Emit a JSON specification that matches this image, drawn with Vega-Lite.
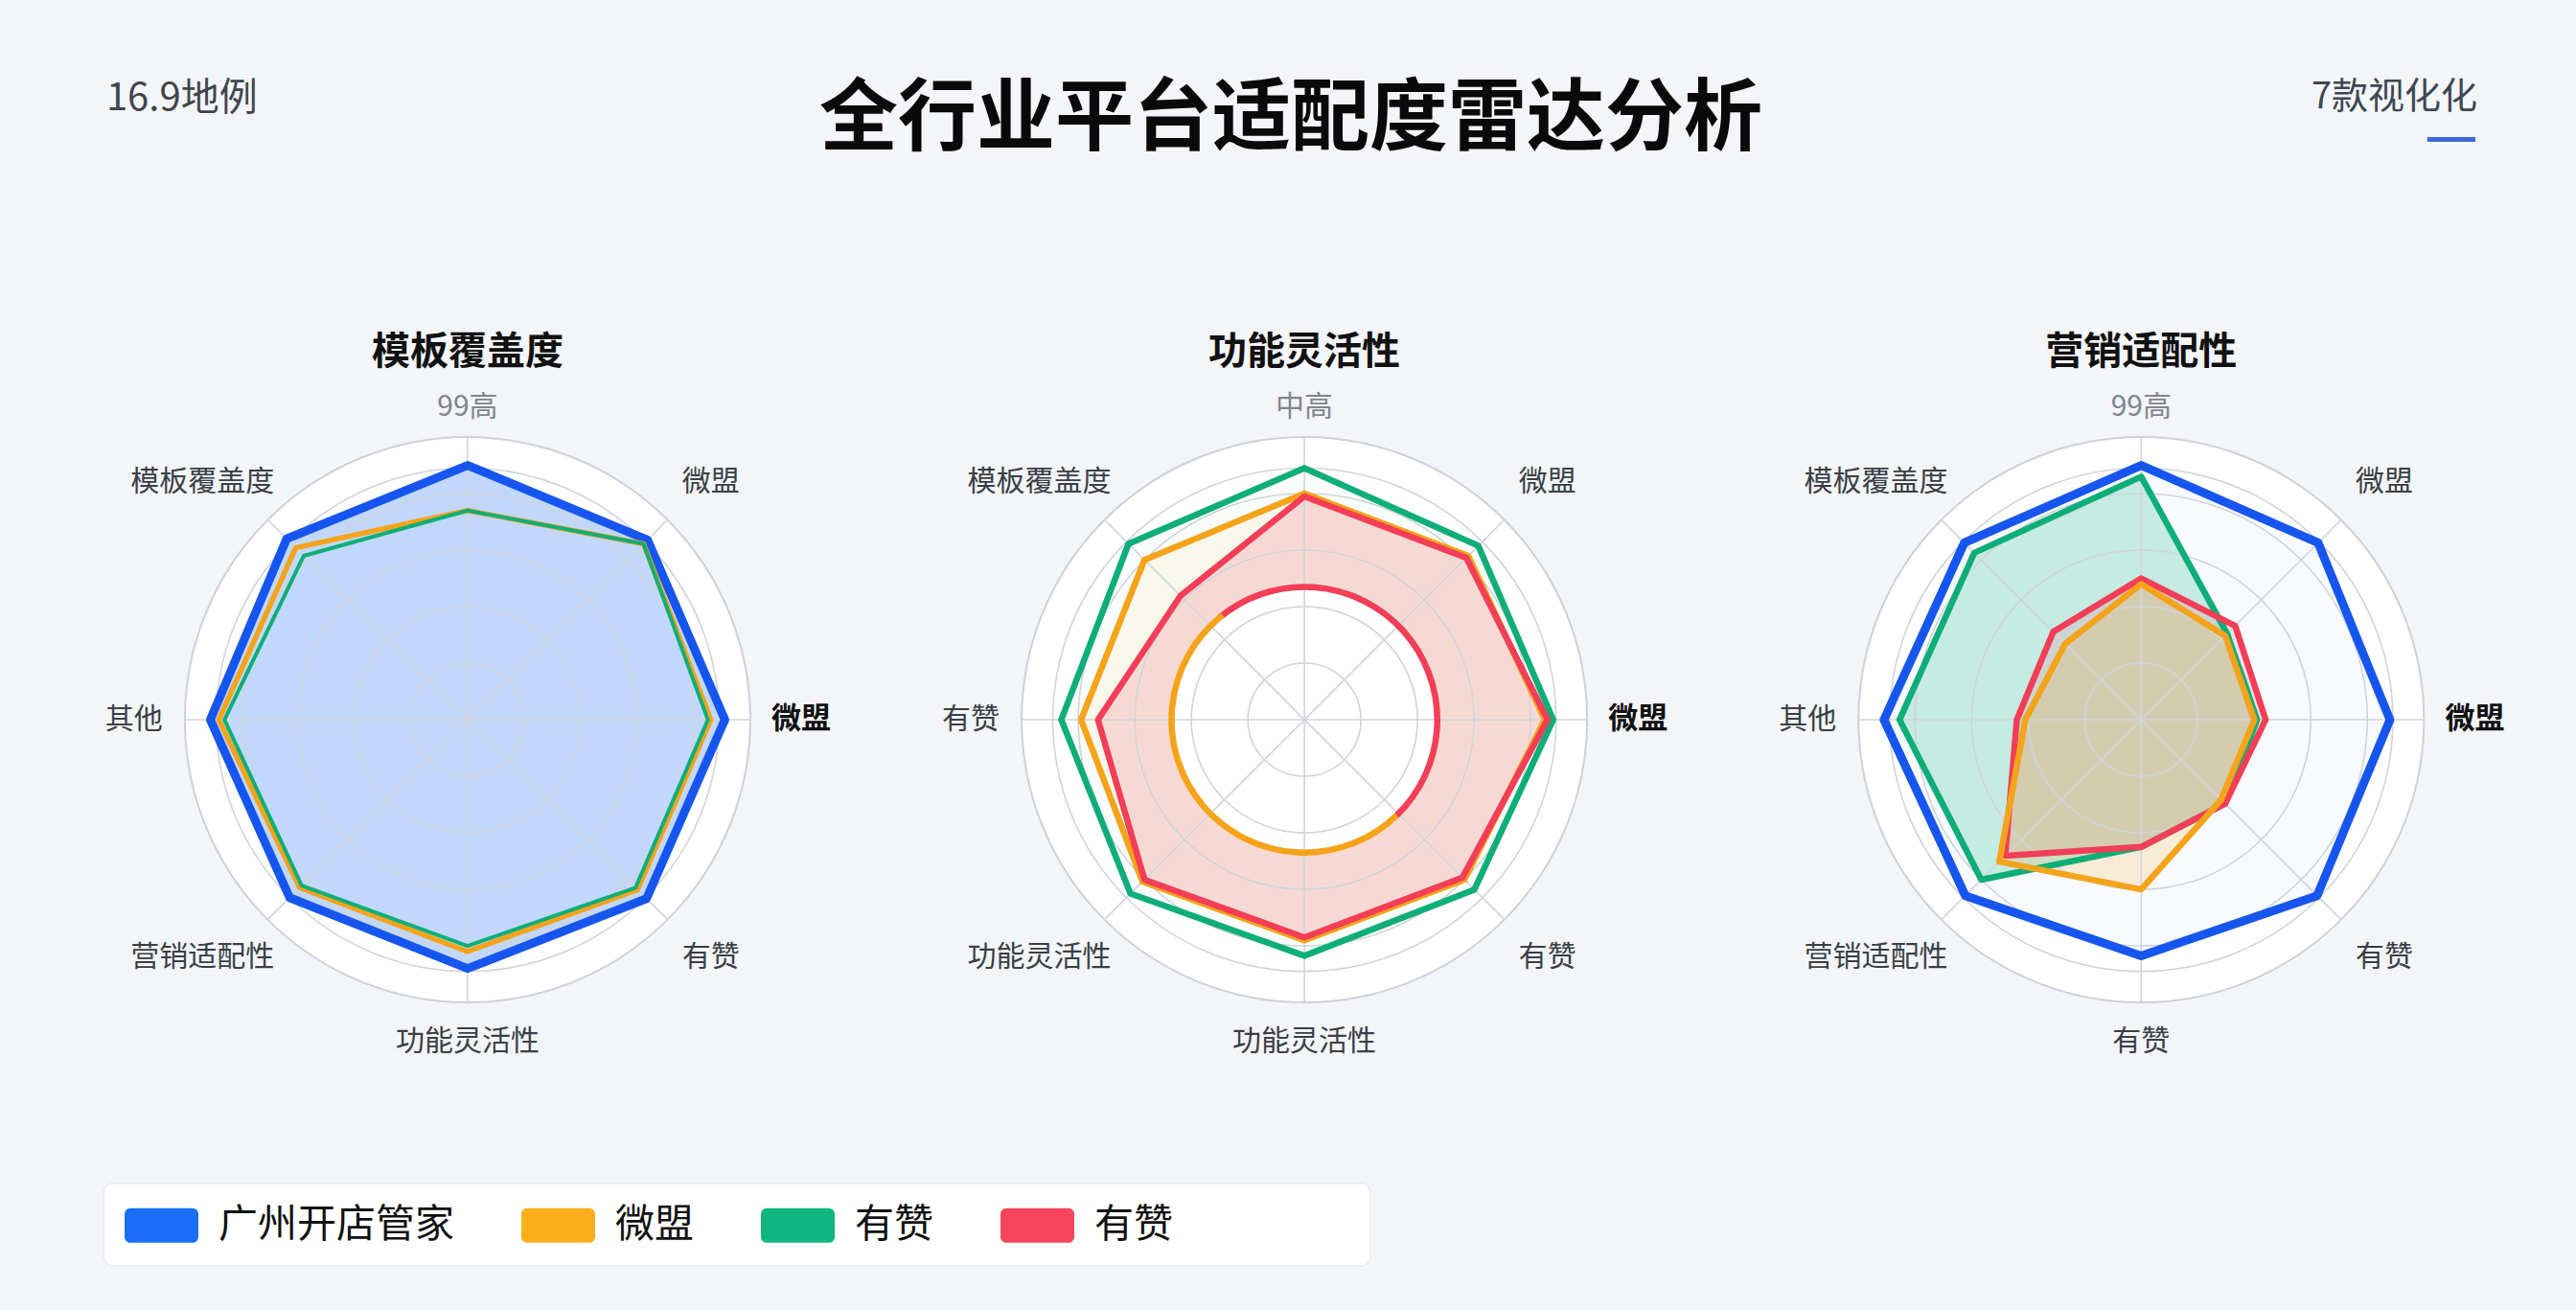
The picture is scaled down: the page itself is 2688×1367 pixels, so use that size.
{
  "$schema": "https://vega.github.io/schema/vega-lite/v6.json",
  "width": 2688,
  "height": 1367,
  "autosize": {"type": "none"},
  "padding": 0,
  "background": "#f3f5f8",
  "config": {
    "view": {"stroke": null},
    "font": "Noto Sans CJK SC",
    "text": {"font": "Noto Sans CJK SC"}
  },
  "datasets": {
    "charts": [
      {"chart": "模板覆盖度"},
      {"chart": "功能灵活性"},
      {"chart": "营销适配性"}
    ],
    "notes": [
      {"id": "title", "text": "全行业平台适配度雷达分析"},
      {"id": "left", "text": "16.9地例"},
      {"id": "right", "text": "7款视化化"}
    ],
    "rings": [
      {"chart": "模板覆盖度", "r": 20}, {"chart": "模板覆盖度", "r": 40}, {"chart": "模板覆盖度", "r": 60},
      {"chart": "模板覆盖度", "r": 80}, {"chart": "模板覆盖度", "r": 89},
      {"chart": "功能灵活性", "r": 20}, {"chart": "功能灵活性", "r": 40}, {"chart": "功能灵活性", "r": 60},
      {"chart": "功能灵活性", "r": 80}, {"chart": "功能灵活性", "r": 89},
      {"chart": "营销适配性", "r": 20}, {"chart": "营销适配性", "r": 40}, {"chart": "营销适配性", "r": 60},
      {"chart": "营销适配性", "r": 80}, {"chart": "营销适配性", "r": 89}
    ],
    "axes": [
      {"chart": "模板覆盖度", "k": 0, "label": "99高"},
      {"chart": "模板覆盖度", "k": 1, "label": "微盟"},
      {"chart": "模板覆盖度", "k": 2, "label": "微盟"},
      {"chart": "模板覆盖度", "k": 3, "label": "有赞"},
      {"chart": "模板覆盖度", "k": 4, "label": "功能灵活性"},
      {"chart": "模板覆盖度", "k": 5, "label": "营销适配性"},
      {"chart": "模板覆盖度", "k": 6, "label": "其他"},
      {"chart": "模板覆盖度", "k": 7, "label": "模板覆盖度"},
      {"chart": "功能灵活性", "k": 0, "label": "中高"},
      {"chart": "功能灵活性", "k": 1, "label": "微盟"},
      {"chart": "功能灵活性", "k": 2, "label": "微盟"},
      {"chart": "功能灵活性", "k": 3, "label": "有赞"},
      {"chart": "功能灵活性", "k": 4, "label": "功能灵活性"},
      {"chart": "功能灵活性", "k": 5, "label": "功能灵活性"},
      {"chart": "功能灵活性", "k": 6, "label": "有赞"},
      {"chart": "功能灵活性", "k": 7, "label": "模板覆盖度"},
      {"chart": "营销适配性", "k": 0, "label": "99高"},
      {"chart": "营销适配性", "k": 1, "label": "微盟"},
      {"chart": "营销适配性", "k": 2, "label": "微盟"},
      {"chart": "营销适配性", "k": 3, "label": "有赞"},
      {"chart": "营销适配性", "k": 4, "label": "有赞"},
      {"chart": "营销适配性", "k": 5, "label": "营销适配性"},
      {"chart": "营销适配性", "k": 6, "label": "其他"},
      {"chart": "营销适配性", "k": 7, "label": "模板覆盖度"}
    ],
    "inner": [
      {"chart": "功能灵活性", "series": "有赞2", "a0": -40, "a1": 136, "r": 47},
      {"chart": "功能灵活性", "series": "微盟", "a0": 136, "a1": 322, "r": 47}
    ],
    "scores": [
      {"chart": "模板覆盖度", "series": "广州开店管家", "k": 0, "v": 90},
      {"chart": "模板覆盖度", "series": "广州开店管家", "k": 1, "v": 90},
      {"chart": "模板覆盖度", "series": "广州开店管家", "k": 2, "v": 91},
      {"chart": "模板覆盖度", "series": "广州开店管家", "k": 3, "v": 89.5},
      {"chart": "模板覆盖度", "series": "广州开店管家", "k": 4, "v": 88},
      {"chart": "模板覆盖度", "series": "广州开店管家", "k": 5, "v": 89},
      {"chart": "模板覆盖度", "series": "广州开店管家", "k": 6, "v": 91},
      {"chart": "模板覆盖度", "series": "广州开店管家", "k": 7, "v": 90.5},
      {"chart": "模板覆盖度", "series": "微盟", "k": 0, "v": 74},
      {"chart": "模板覆盖度", "series": "微盟", "k": 1, "v": 88},
      {"chart": "模板覆盖度", "series": "微盟", "k": 2, "v": 86},
      {"chart": "模板覆盖度", "series": "微盟", "k": 3, "v": 85},
      {"chart": "模板覆盖度", "series": "微盟", "k": 4, "v": 82},
      {"chart": "模板覆盖度", "series": "微盟", "k": 5, "v": 84},
      {"chart": "模板覆盖度", "series": "微盟", "k": 6, "v": 88},
      {"chart": "模板覆盖度", "series": "微盟", "k": 7, "v": 86},
      {"chart": "模板覆盖度", "series": "有赞", "k": 0, "v": 74},
      {"chart": "模板覆盖度", "series": "有赞", "k": 1, "v": 88},
      {"chart": "模板覆盖度", "series": "有赞", "k": 2, "v": 85},
      {"chart": "模板覆盖度", "series": "有赞", "k": 3, "v": 84},
      {"chart": "模板覆盖度", "series": "有赞", "k": 4, "v": 80},
      {"chart": "模板覆盖度", "series": "有赞", "k": 5, "v": 83},
      {"chart": "模板覆盖度", "series": "有赞", "k": 6, "v": 86},
      {"chart": "模板覆盖度", "series": "有赞", "k": 7, "v": 82},
      {"chart": "功能灵活性", "series": "有赞", "k": 0, "v": 89},
      {"chart": "功能灵活性", "series": "有赞", "k": 1, "v": 87},
      {"chart": "功能灵活性", "series": "有赞", "k": 2, "v": 88},
      {"chart": "功能灵活性", "series": "有赞", "k": 3, "v": 85},
      {"chart": "功能灵活性", "series": "有赞", "k": 4, "v": 83.5},
      {"chart": "功能灵活性", "series": "有赞", "k": 5, "v": 87},
      {"chart": "功能灵活性", "series": "有赞", "k": 6, "v": 86},
      {"chart": "功能灵活性", "series": "有赞", "k": 7, "v": 88},
      {"chart": "功能灵活性", "series": "微盟", "k": 0, "v": 80},
      {"chart": "功能灵活性", "series": "微盟", "k": 1, "v": 82},
      {"chart": "功能灵活性", "series": "微盟", "k": 2, "v": 85},
      {"chart": "功能灵活性", "series": "微盟", "k": 3, "v": 80},
      {"chart": "功能灵活性", "series": "微盟", "k": 4, "v": 78},
      {"chart": "功能灵活性", "series": "微盟", "k": 5, "v": 81},
      {"chart": "功能灵活性", "series": "微盟", "k": 6, "v": 79},
      {"chart": "功能灵活性", "series": "微盟", "k": 7, "v": 80},
      {"chart": "功能灵活性", "series": "有赞2", "k": 0, "v": 79},
      {"chart": "功能灵活性", "series": "有赞2", "k": 1, "v": 81},
      {"chart": "功能灵活性", "series": "有赞2", "k": 2, "v": 86},
      {"chart": "功能灵活性", "series": "有赞2", "k": 3, "v": 79},
      {"chart": "功能灵活性", "series": "有赞2", "k": 4, "v": 77},
      {"chart": "功能灵活性", "series": "有赞2", "k": 5, "v": 80},
      {"chart": "功能灵活性", "series": "有赞2", "k": 6, "v": 73},
      {"chart": "功能灵活性", "series": "有赞2", "k": 7, "v": 62},
      {"chart": "营销适配性", "series": "广州开店管家", "k": 0, "v": 90},
      {"chart": "营销适配性", "series": "广州开店管家", "k": 1, "v": 88.5},
      {"chart": "营销适配性", "series": "广州开店管家", "k": 2, "v": 88},
      {"chart": "营销适配性", "series": "广州开店管家", "k": 3, "v": 88},
      {"chart": "营销适配性", "series": "广州开店管家", "k": 4, "v": 83.5},
      {"chart": "营销适配性", "series": "广州开店管家", "k": 5, "v": 88},
      {"chart": "营销适配性", "series": "广州开店管家", "k": 6, "v": 91},
      {"chart": "营销适配性", "series": "广州开店管家", "k": 7, "v": 88.5},
      {"chart": "营销适配性", "series": "有赞", "k": 0, "v": 86},
      {"chart": "营销适配性", "series": "有赞", "k": 1, "v": 43},
      {"chart": "营销适配性", "series": "有赞", "k": 2, "v": 41},
      {"chart": "营销适配性", "series": "有赞", "k": 3, "v": 42},
      {"chart": "营销适配性", "series": "有赞", "k": 4, "v": 45},
      {"chart": "营销适配性", "series": "有赞", "k": 5, "v": 80},
      {"chart": "营销适配性", "series": "有赞", "k": 6, "v": 85.5},
      {"chart": "营销适配性", "series": "有赞", "k": 7, "v": 83.5},
      {"chart": "营销适配性", "series": "有赞2", "k": 0, "v": 50},
      {"chart": "营销适配性", "series": "有赞2", "k": 1, "v": 47},
      {"chart": "营销适配性", "series": "有赞2", "k": 2, "v": 44},
      {"chart": "营销适配性", "series": "有赞2", "k": 3, "v": 42},
      {"chart": "营销适配性", "series": "有赞2", "k": 4, "v": 45},
      {"chart": "营销适配性", "series": "有赞2", "k": 5, "v": 68},
      {"chart": "营销适配性", "series": "有赞2", "k": 6, "v": 44},
      {"chart": "营销适配性", "series": "有赞2", "k": 7, "v": 44},
      {"chart": "营销适配性", "series": "微盟", "k": 0, "v": 48},
      {"chart": "营销适配性", "series": "微盟", "k": 1, "v": 42},
      {"chart": "营销适配性", "series": "微盟", "k": 2, "v": 40},
      {"chart": "营销适配性", "series": "微盟", "k": 3, "v": 40},
      {"chart": "营销适配性", "series": "微盟", "k": 4, "v": 60},
      {"chart": "营销适配性", "series": "微盟", "k": 5, "v": 71},
      {"chart": "营销适配性", "series": "微盟", "k": 6, "v": 41},
      {"chart": "营销适配性", "series": "微盟", "k": 7, "v": 38}
    ]
  },
  "layer": [
    {
      "data": {"name": "charts"},
      "transform": [
        {"calculate": "165.4 + 296 * indexof(['模板覆盖度','功能灵活性','营销适配性'], datum.chart)", "as": "cx"},
        {"calculate": "254.6", "as": "cy"}
      ],
      "mark": {"type": "arc", "theta": 0, "theta2": 6.2832, "fill": "#ffffff", "stroke": "#cdd2d8", "strokeWidth": 2},
      "encoding": {
        "x": {"field": "cx", "type": "quantitative", "scale": {"domain": [0, 911.19], "nice": false, "zero": false}, "axis": null},
        "y": {"field": "cy", "type": "quantitative", "scale": {"domain": [0, 463.39], "nice": false, "zero": false, "reverse": true}, "axis": null},
        "radius": {"datum": 100, "type": "quantitative", "stack": null, "scale": {"type": "linear", "domain": [0, 100], "range": [0, 295], "zero": true}}
      }
    },
    {
      "data": {"name": "scores"},
      "transform": [
        {"calculate": "165.4 + 296 * indexof(['模板覆盖度','功能灵活性','营销适配性'], datum.chart)", "as": "cx"},
        {"calculate": "datum.cx + datum.v * sin(datum.k * PI / 4)", "as": "x"},
        {"calculate": "254.6 - datum.v * cos(datum.k * PI / 4)", "as": "y"}
      ],
      "mark": {"type": "line", "interpolate": "linear-closed", "strokeOpacity": 0},
      "encoding": {
        "x": {"field": "x", "type": "quantitative", "scale": {"domain": [0, 911.19], "nice": false, "zero": false}, "axis": null},
        "y": {"field": "y", "type": "quantitative", "scale": {"domain": [0, 463.39], "nice": false, "zero": false, "reverse": true}, "axis": null},
        "detail": {"field": "chart"},
        "order": {"field": "k", "type": "quantitative"},
        "fill": {
          "field": "series",
          "type": "nominal",
          "scale": {"domain": ["广州开店管家", "微盟", "有赞", "有赞2"], "range": ["#1a6ef5", "#fbae1c", "#10b67f", "#f5455c"]},
          "legend": {
            "orient": "none",
            "legendX": 130,
            "legendY": 1240,
            "direction": "horizontal",
            "columns": 4,
            "title": null,
            "padding": 0,
            "symbolType": "M-0.84,-0.47 H0.84 A0.16,0.16 0 0 1 1,-0.31 V0.31 A0.16,0.16 0 0 1 0.84,0.47 H-0.84 A0.16,0.16 0 0 1 -1,0.31 V-0.31 A0.16,0.16 0 0 1 -0.84,-0.47 Z",
            "symbolSize": 5929,
            "symbolStrokeWidth": 0,
            "symbolOpacity": 1,
            "labelFont": "Noto Sans CJK SC",
            "labelFontSize": 41,
            "labelColor": "#111111",
            "labelOffset": 21,
            "labelLimit": 400,
            "columnPadding": 70,
            "labelExpr": "datum.label == '有赞2' ? '有赞' : datum.label"
          }
        },
        "fillOpacity": {
          "condition": [
            {"test": "datum.chart == '模板覆盖度' && datum.series == '广州开店管家'", "value": 0.27},
            {"test": "datum.chart == '模板覆盖度'", "value": 0},
            {"test": "datum.chart == '功能灵活性' && datum.series == '有赞2'", "value": 0.17},
            {"test": "datum.chart == '功能灵活性' && datum.series == '微盟'", "value": 0.07},
            {"test": "datum.chart == '营销适配性' && datum.series == '有赞'", "value": 0.22},
            {"test": "datum.chart == '营销适配性' && datum.series == '微盟'", "value": 0.18},
            {"test": "datum.chart == '营销适配性' && datum.series == '有赞2'", "value": 0.14},
            {"test": "datum.chart == '营销适配性' && datum.series == '广州开店管家'", "value": 0.03}
          ],
          "value": 0.03
        }
      }
    },
    {
      "data": {"name": "inner"},
      "transform": [
        {"calculate": "165.4 + 296 * indexof(['模板覆盖度','功能灵活性','营销适配性'], datum.chart)", "as": "cx"},
        {"calculate": "254.6", "as": "cy"}
      ],
      "mark": {"type": "arc", "theta": 0, "theta2": 6.2832, "fill": "#ffffff"},
      "encoding": {
        "x": {"field": "cx", "type": "quantitative", "scale": {"domain": [0, 911.19], "nice": false, "zero": false}, "axis": null},
        "y": {"field": "cy", "type": "quantitative", "scale": {"domain": [0, 463.39], "nice": false, "zero": false, "reverse": true}, "axis": null},
        "radius": {"field": "r", "type": "quantitative", "stack": null, "scale": {"type": "linear", "domain": [0, 100], "range": [0, 295], "zero": true}}
      }
    },
    {
      "data": {"name": "rings"},
      "transform": [
        {"calculate": "165.4 + 296 * indexof(['模板覆盖度','功能灵活性','营销适配性'], datum.chart)", "as": "cx"},
        {"calculate": "254.6", "as": "cy"}
      ],
      "mark": {"type": "arc", "theta": 0, "theta2": 6.2832, "filled": false, "fillOpacity": 0, "stroke": "#d0d4da", "strokeWidth": 1.6},
      "encoding": {
        "x": {"field": "cx", "type": "quantitative", "scale": {"domain": [0, 911.19], "nice": false, "zero": false}, "axis": null},
        "y": {"field": "cy", "type": "quantitative", "scale": {"domain": [0, 463.39], "nice": false, "zero": false, "reverse": true}, "axis": null},
        "radius": {"field": "r", "type": "quantitative", "stack": null, "scale": {"type": "linear", "domain": [0, 100], "range": [0, 295], "zero": true}}
      }
    },
    {
      "data": {"name": "axes"},
      "transform": [
        {"calculate": "165.4 + 296 * indexof(['模板覆盖度','功能灵活性','营销适配性'], datum.chart)", "as": "cx"},
        {"calculate": "254.6", "as": "cy"},
        {"calculate": "datum.cx + 100 * sin(datum.k * PI / 4)", "as": "ex"},
        {"calculate": "254.6 - 100 * cos(datum.k * PI / 4)", "as": "ey"}
      ],
      "mark": {"type": "rule", "stroke": "#d0d4da", "strokeWidth": 1.6},
      "encoding": {
        "x": {"field": "cx", "type": "quantitative", "scale": {"domain": [0, 911.19], "nice": false, "zero": false}, "axis": null},
        "y": {"field": "cy", "type": "quantitative", "scale": {"domain": [0, 463.39], "nice": false, "zero": false, "reverse": true}, "axis": null},
        "x2": {"field": "ex"},
        "y2": {"field": "ey"}
      }
    },
    {
      "data": {"name": "scores"},
      "transform": [
        {"calculate": "165.4 + 296 * indexof(['模板覆盖度','功能灵活性','营销适配性'], datum.chart)", "as": "cx"},
        {"calculate": "datum.cx + datum.v * sin(datum.k * PI / 4)", "as": "x"},
        {"calculate": "254.6 - datum.v * cos(datum.k * PI / 4)", "as": "y"}
      ],
      "mark": {"type": "line", "interpolate": "linear-closed", "strokeJoin": "round"},
      "encoding": {
        "x": {"field": "x", "type": "quantitative", "scale": {"domain": [0, 911.19], "nice": false, "zero": false}, "axis": null},
        "y": {"field": "y", "type": "quantitative", "scale": {"domain": [0, 463.39], "nice": false, "zero": false, "reverse": true}, "axis": null},
        "detail": {"field": "chart"},
        "order": {"field": "k", "type": "quantitative"},
        "stroke": {
          "field": "series",
          "type": "nominal",
          "scale": {"domain": ["广州开店管家", "微盟", "有赞", "有赞2"], "range": ["#1756ee", "#f5a31a", "#0fae78", "#f23e57"]},
          "legend": null
        },
        "strokeWidth": {
          "condition": [
            {"test": "datum.series == '广州开店管家'", "value": 9},
            {"test": "datum.chart == '模板覆盖度' && datum.series == '有赞'", "value": 4},
            {"test": "datum.chart == '模板覆盖度' && datum.series == '微盟'", "value": 5.5}
          ],
          "value": 6.5
        }
      }
    },
    {
      "data": {"name": "inner"},
      "transform": [
        {"calculate": "165.4 + 296 * indexof(['模板覆盖度','功能灵活性','营销适配性'], datum.chart)", "as": "cx"},
        {"calculate": "254.6", "as": "cy"}
      ],
      "mark": {"type": "arc", "filled": false, "fillOpacity": 0, "strokeWidth": 6.5, "strokeCap": "round"},
      "encoding": {
        "x": {"field": "cx", "type": "quantitative", "scale": {"domain": [0, 911.19], "nice": false, "zero": false}, "axis": null},
        "y": {"field": "cy", "type": "quantitative", "scale": {"domain": [0, 463.39], "nice": false, "zero": false, "reverse": true}, "axis": null},
        "theta": {"field": "a0", "type": "quantitative", "stack": null, "scale": {"type": "linear", "domain": [0, 360], "range": [0, 6.2832], "zero": false}},
        "theta2": {"field": "a1"},
        "radius": {"field": "r", "type": "quantitative", "stack": null, "scale": {"type": "linear", "domain": [0, 100], "range": [0, 295], "zero": true}},
        "radius2": {"field": "r"},
        "stroke": {"field": "series", "type": "nominal", "legend": null}
      }
    },
    {
      "data": {"name": "axes"},
      "transform": [
        {"filter": "datum.k != 2"},
        {"calculate": "165.4 + 296 * indexof(['模板覆盖度','功能灵活性','营销适配性'], datum.chart)", "as": "cx"},
        {"calculate": "datum.k == 0 ? 110.5 : datum.k == 4 ? 114 : 118", "as": "lr"},
        {"calculate": "datum.k % 2 == 1 ? datum.cx + (datum.k < 4 ? 1 : -1) * (86 + (length(datum.label) - 2) * 2.6) : datum.cx + datum.lr * sin(datum.k * PI / 4)", "as": "x"},
        {"calculate": "datum.k % 2 == 1 ? 254.6 - (datum.k == 1 || datum.k == 7 ? 1 : -1) * 84 : 254.6 - datum.lr * cos(datum.k * PI / 4)", "as": "y"}
      ],
      "mark": {"type": "text", "fontSize": 30, "baseline": "middle", "align": "center"},
      "encoding": {
        "x": {"field": "x", "type": "quantitative", "scale": {"domain": [0, 911.19], "nice": false, "zero": false}, "axis": null},
        "y": {"field": "y", "type": "quantitative", "scale": {"domain": [0, 463.39], "nice": false, "zero": false, "reverse": true}, "axis": null},
        "text": {"field": "label"},
        "color": {"condition": {"test": "datum.k == 0", "value": "#80878f"}, "value": "#3a3f46"}
      }
    },
    {
      "data": {"name": "axes"},
      "transform": [
        {"filter": "datum.k == 2"},
        {"calculate": "165.4 + 296 * indexof(['模板覆盖度','功能灵活性','营销适配性'], datum.chart)", "as": "cx"},
        {"calculate": "datum.cx + 118", "as": "x"},
        {"calculate": "254.6", "as": "y"}
      ],
      "mark": {"type": "text", "fontSize": 31, "fontWeight": "bold", "baseline": "middle", "align": "center", "color": "#111111"},
      "encoding": {
        "x": {"field": "x", "type": "quantitative", "scale": {"domain": [0, 911.19], "nice": false, "zero": false}, "axis": null},
        "y": {"field": "y", "type": "quantitative", "scale": {"domain": [0, 463.39], "nice": false, "zero": false, "reverse": true}, "axis": null},
        "text": {"field": "label"}
      }
    },
    {
      "data": {"name": "charts"},
      "transform": [
        {"calculate": "165.4 + 296 * indexof(['模板覆盖度','功能灵活性','营销适配性'], datum.chart)", "as": "cx"},
        {"calculate": "124.7", "as": "ty"}
      ],
      "mark": {"type": "text", "fontSize": 40, "fontWeight": "bold", "baseline": "middle", "align": "center", "color": "#111111"},
      "encoding": {
        "x": {"field": "cx", "type": "quantitative", "scale": {"domain": [0, 911.19], "nice": false, "zero": false}, "axis": null},
        "y": {"field": "ty", "type": "quantitative", "scale": {"domain": [0, 463.39], "nice": false, "zero": false, "reverse": true}, "axis": null},
        "text": {"field": "chart"}
      }
    },
    {
      "data": {"name": "notes"},
      "transform": [{"filter": "datum.id == 'title'"}],
      "mark": {"type": "text", "fontSize": 82, "fontWeight": "bold", "baseline": "middle", "align": "center", "color": "#0a0a0a"},
      "encoding": {
        "x": {"datum": 456.6, "type": "quantitative"},
        "y": {"datum": 42.4, "type": "quantitative"},
        "text": {"field": "text"}
      }
    },
    {
      "data": {"name": "notes"},
      "transform": [{"filter": "datum.id == 'left'"}],
      "mark": {"type": "text", "fontSize": 40, "baseline": "middle", "align": "left", "color": "#41464d"},
      "encoding": {
        "x": {"datum": 37.6, "type": "quantitative"},
        "y": {"datum": 34.9, "type": "quantitative"},
        "text": {"field": "text"}
      }
    },
    {
      "data": {"name": "notes"},
      "transform": [{"filter": "datum.id == 'right'"}],
      "mark": {"type": "text", "fontSize": 38, "baseline": "middle", "align": "right", "color": "#3f4752"},
      "encoding": {
        "x": {"datum": 876.3, "type": "quantitative"},
        "y": {"datum": 34.6, "type": "quantitative"},
        "text": {"field": "text"}
      }
    },
    {
      "data": {"name": "notes"},
      "transform": [{"filter": "datum.id == 'right'"}],
      "mark": {"type": "rule", "stroke": "#3d68d8", "strokeWidth": 5},
      "encoding": {
        "x": {"datum": 858.6, "type": "quantitative"},
        "x2": {"datum": 875.6},
        "y": {"datum": 49.3, "type": "quantitative"},
        "y2": {"datum": 49.3}
      }
    },
    {
      "data": {"name": "notes"},
      "transform": [{"filter": "datum.id == 'left'"}],
      "mark": {"type": "rect", "fill": "#ffffff", "cornerRadius": 10, "stroke": "#e9ecf0", "strokeWidth": 1.5},
      "encoding": {
        "x": {"datum": 36.6, "type": "quantitative"},
        "x2": {"datum": 484.7},
        "y": {"datum": 418.6, "type": "quantitative"},
        "y2": {"datum": 447.8}
      }
    }
  ]
}
